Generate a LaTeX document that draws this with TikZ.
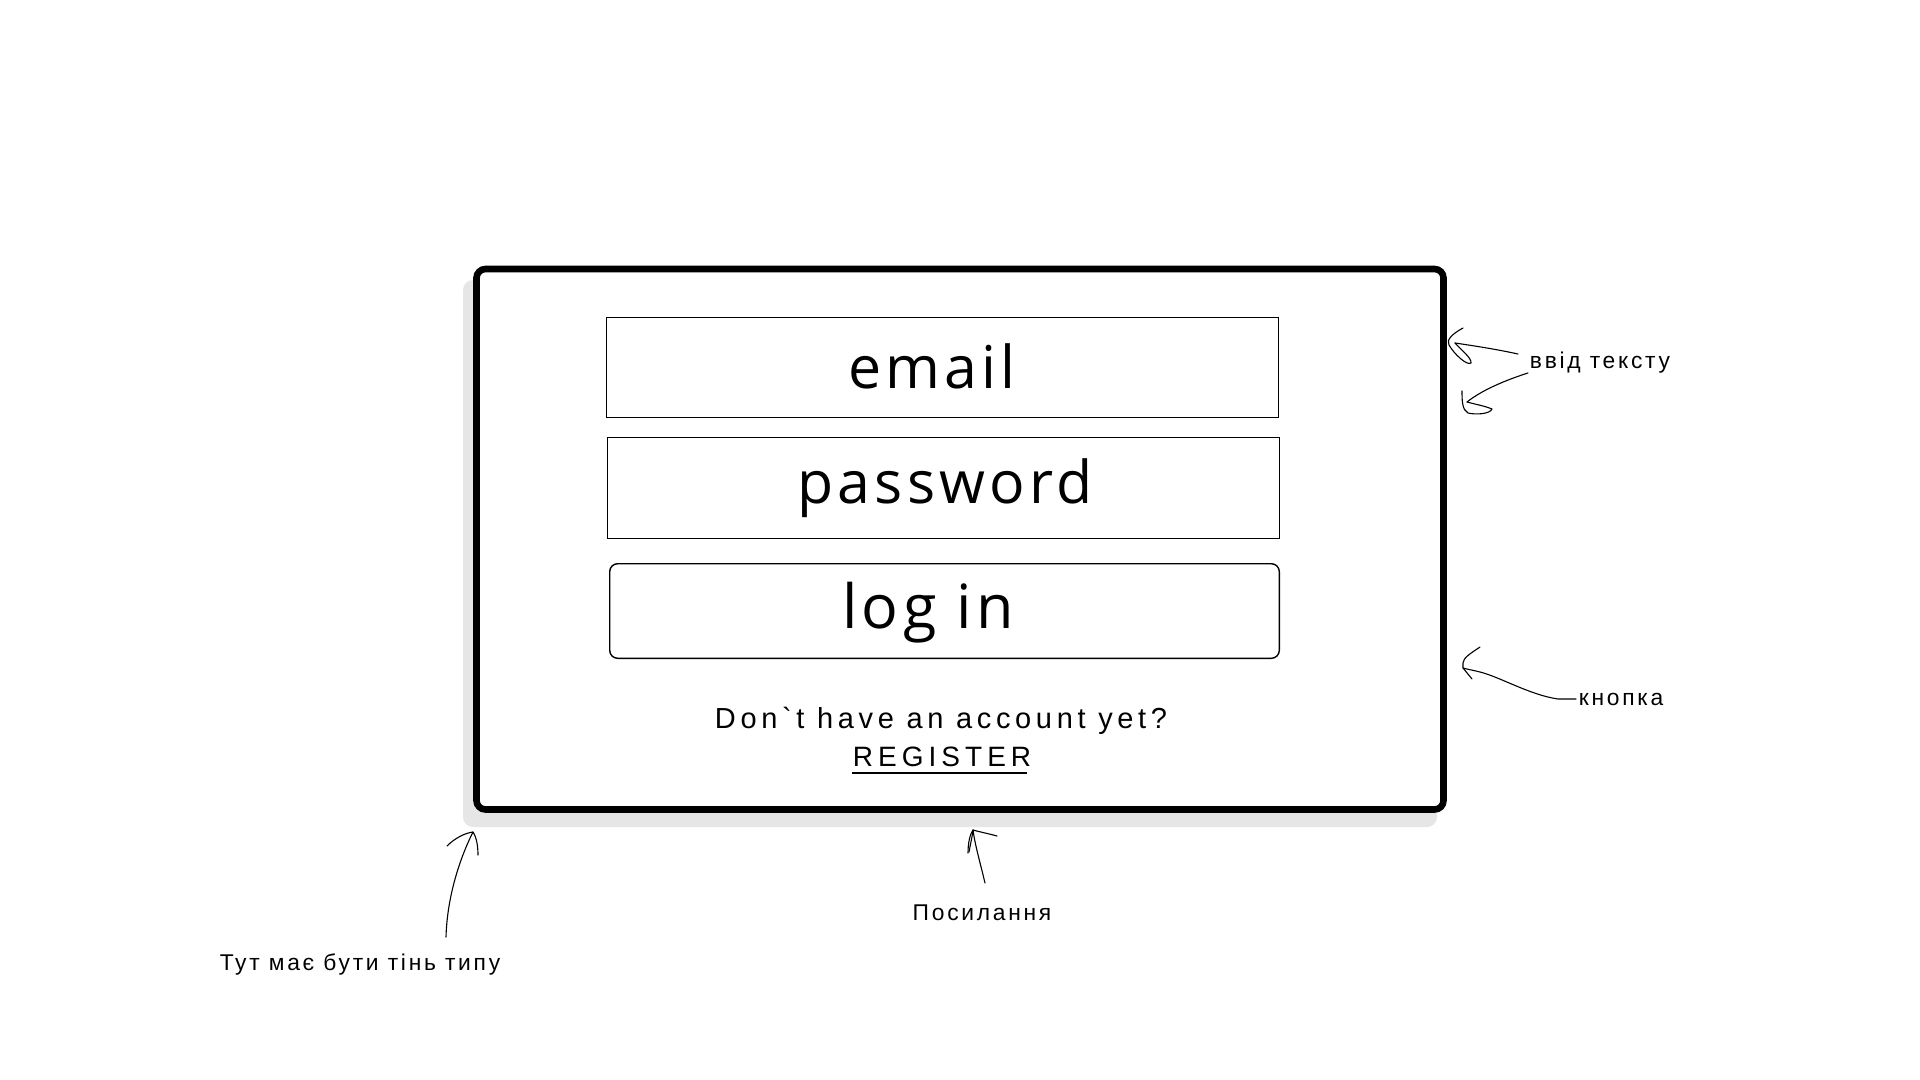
\documentclass[tikz,border=0pt]{standalone}
\usepackage{fontspec}
\setmainfont{Liberation Sans}
\newfontfamily\bigfont[LetterSpace=7]{Open Sans}
\newfontfamily\notefont[LetterSpace=12]{Liberation Sans}
\newfontfamily\linkfont[LetterSpace=16]{Liberation Sans}
\newfontfamily\regfont[LetterSpace=18]{Liberation Sans}
\usetikzlibrary{calc}
\definecolor{shadowgray}{RGB}{230,230,230}
\tikzset{
  cardbox/.style={draw=black, line width=3.3pt, fill=white, rounded corners=4.5pt, inner sep=0pt, outer sep=0pt},
  shadowbox/.style={fill=shadowgray, rounded corners=5pt, inner sep=0pt, outer sep=0pt},
  fieldbox/.style={draw=black, line width=0.7pt, fill=white, inner sep=0pt, outer sep=0pt},
  buttonbox/.style={fieldbox, rounded corners=4pt},
  bigtext/.style={font=\bigfont\fontsize{29.5pt}{34pt}\selectfont, inner sep=0pt, anchor=base},
  linktext/.style={font=\linkfont\fontsize{14.5pt}{17pt}\selectfont, inner sep=0pt, anchor=base},
  regtext/.style={font=\regfont\fontsize{14pt}{16pt}\selectfont, inner sep=0pt, anchor=base},
  notetext/.style={font=\notefont\fontsize{11.4pt}{13pt}\selectfont, inner sep=0pt, anchor=base},
  sketch/.style={draw=black, line width=0.55pt, line cap=round, line join=round}
}
\begin{document}
\begin{tikzpicture}[x=0.5pt,y=-0.5pt]
\useasboundingbox[fill=white] (0,0) rectangle (1920,1080);

% card with shadow
\node[shadowbox, minimum width=487pt, minimum height=273.5pt] (shadow) at (950,553.5) {};
\node[cardbox, minimum width=483.5pt, minimum height=270.25pt] (card) at (960,539.25) {};

% fields
\node[fieldbox, minimum width=335.8pt, minimum height=49.8pt] (emailbox) at (942.5,367.5) {};
\node[fieldbox, minimum width=335.8pt, minimum height=50.3pt] (passbox) at (943.5,488) {};
\node[buttonbox, minimum width=334.8pt, minimum height=47.3pt] (loginbox) at (944.5,611) {};

\node[bigtext] (email) at (932,388) {email};
\node[bigtext] (password) at (945,503) {password};
\node[bigtext, font=\bigfont\fontsize{30.5pt}{34pt}\selectfont] (login) at (928,628) {log in};

\node[linktext] (noacc) at (941,728) {Don`t have an account yet?};
\node[regtext] (register) at (942,766) {REGISTER};
\draw[line width=1.1pt] ($(register.base west)+(0,7)$) -- ($(register.base east)+(-5,7)$);

% annotations
\node[notetext] (shadownote) at (360,970) {Тут має бути тінь типу};
\node[notetext] (linknote) at (982,920) {Посилання};
\node[notetext] (inputnote) at (1600,369) {ввід тексту};
\node[notetext] (buttonnote) at (1621,705) {кнопка};

% arrow tips and free ends
\coordinate (tipA) at (1455,343);
\coordinate (tipB) at (1467,402);
\coordinate (tipC) at (1463,668);
\coordinate (tipD) at (973,830);
\coordinate (tipE) at (473,832);
\coordinate (startA) at (1518,354);
\coordinate (startB) at (1528,373);
\coordinate (startC) at (1576,699);
\coordinate (startD) at (985,883);
\coordinate (startE) at (446,937);

% ввід тексту, arrow 1
\draw[sketch] (startA) .. controls (1495,349) and (1475,346) .. (tipA);
\draw[sketch] (1463,328) .. controls (1452,334) and (1446,340) .. (1449,345)
  .. controls (1454,354) and (1467,366) .. (1471,363)
  .. controls (1472,358) and (1460,349) .. (tipA);
% ввід тексту, arrow 2
\draw[sketch] (startB) .. controls (1506,380) and (1482,390) .. (tipB);
\draw[sketch] (1462,391) .. controls (1462,400) and (1462,410) .. (1468,413)
  .. controls (1476,415) and (1490,414) .. (1492,409)
  .. controls (1485,406) and (1474,404) .. (tipB);
% кнопка
\draw[sketch] (startC) -- (1558,699) .. controls (1530,695) and (1500,677) .. (1480,672) .. controls (1472,670) and (1466,669) .. (tipC);
\draw[sketch] (1480,647) .. controls (1471,653) and (1463,658) .. (1463,663) -- (tipC) -- (1472,679);
% Посилання
\draw[sketch] (startD) .. controls (980,862) and (975,845) .. (tipD);
\draw[sketch] (968,853) .. controls (968,843) and (970,834) .. (tipD) .. controls (980,832) and (990,834) .. (997,836);
\draw[sketch] (tipD) .. controls (972,838) and (970,846) .. (969,852);
% тінь
\draw[sketch] (startE) .. controls (447,900) and (458,862) .. (tipE);
\draw[sketch] (447,846) .. controls (455,838) and (465,833) .. (tipE) .. controls (477,838) and (478,848) .. (478,855);
\end{tikzpicture}
\end{document}
